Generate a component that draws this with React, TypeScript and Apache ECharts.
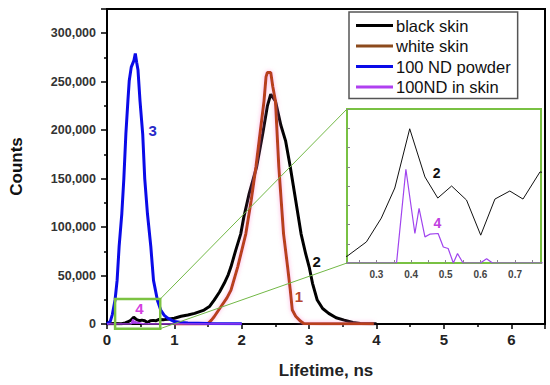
import React, { useEffect, useRef } from "react";
import * as echarts from "echarts";

const FONT = "Liberation Sans, Arial, sans-serif";

// Series names (legend order)
const seriesNames = ["black skin", "white skin", "100 ND powder", "100ND in skin"];

// Curve 2: black skin
const blackX = [0, 0.1, 0.2, 0.215, 0.271, 0.314, 0.353, 0.396, 0.44, 0.477, 0.517, 0.56, 0.601, 0.642, 0.685, 0.723, 0.772, 0.85, 0.9, 1.0, 1.1, 1.2, 1.3, 1.44, 1.52, 1.59, 1.67, 1.74, 1.8, 1.84, 1.91, 1.985, 2.03, 2.11, 2.22, 2.31, 2.38, 2.43, 2.5, 2.58, 2.65, 2.72, 2.8, 2.88, 2.95, 3.0, 3.05, 3.12, 3.2, 3.29, 3.4, 3.52, 3.65, 3.76, 4.0];
const blackY = [0, 500, 300, 349, 1095, 2331, 3896, 6973, 4470, 3374, 4000, 3270, 1445, 3322, 3739, 3322, 4730, 4500, 5000, 6000, 8000, 9300, 11000, 14400, 18000, 24700, 33000, 42000, 51000, 59000, 76000, 93000, 110000, 134500, 162000, 196000, 225000, 237000, 230000, 205000, 189000, 162000, 127600, 93000, 72000, 59000, 42000, 24700, 16000, 11000, 6500, 4000, 1500, 500, 200];

// Curve 1: white skin
const whiteX = [1.0, 1.49, 1.55, 1.59, 1.69, 1.78, 1.84, 1.94, 2.0, 2.06, 2.14, 2.21, 2.27, 2.33, 2.36, 2.38, 2.43, 2.46, 2.5, 2.55, 2.62, 2.68, 2.72, 2.75, 2.8, 2.87, 2.92, 3.2, 3.96];
const whiteY = [0, 0, 4000, 7500, 17800, 27000, 35000, 59000, 76000, 93000, 127600, 162000, 196000, 230000, 255000, 259600, 259600, 245000, 230000, 162000, 93000, 59000, 35000, 14400, 8000, 3000, 500, 300, 200];

// Curve 3: 100 ND powder
const powderX = [0, 0.05, 0.08, 0.12, 0.15, 0.18, 0.22, 0.25, 0.28, 0.31, 0.33, 0.36, 0.4, 0.42, 0.44, 0.46, 0.49, 0.53, 0.56, 0.6, 0.65, 0.69, 0.75, 0.8, 0.85, 0.9, 1.0, 1.1, 1.2, 1.5, 2.0];
const powderY = [0, 3000, 10000, 25000, 45000, 80000, 114000, 150000, 196000, 230000, 251000, 265000, 272000, 279000, 270000, 262000, 230000, 196000, 150000, 114000, 80000, 45000, 24000, 14000, 9000, 6000, 2500, 1500, 1000, 500, 300];

// Curve 4: 100ND in skin
const inSkinX = [0, 0.2, 0.3, 0.358, 0.385, 0.411, 0.423, 0.44, 0.454, 0.478, 0.493, 0.507, 0.522, 0.534, 0.55, 0.6, 0.618, 0.635, 0.8, 1.0, 2.0];
const inSkinY = [0, 0, 0, 0, 4871, 1533, 2837, 1356, 1497, 1533, 834, 751, 0, 490, 0, 0, 226, 0, 0, 0, 0];

// Axis ranges / ticks
const mainXRange = [0, 6.5];
const mainYRange = [0, 325000];
const insetXRange = [0.215, 0.775];
const insetYRange = [0, 8000];
const insetXLabels = [0.3, 0.4, 0.5, 0.6, 0.7];
const insetXTicks = [0.25, 0.3, 0.35, 0.4, 0.45, 0.5, 0.55, 0.6, 0.65, 0.7, 0.75];

// Zoomed region on the main plot
const zoomBoxX = [0.12, 0.79];
const zoomBoxY = [-4800, 25700];

// Curve number annotations (data coordinates)
const mainLabelText = ["1", "2", "3", "4"];
const mainLabelX = [2.85, 3.11, 0.677, 0.48];
const mainLabelY = [28100, 64100, 199600, 16150];
const insetLabelText = ["2", "4"];
const insetLabelX = [0.474, 0.476];
const insetLabelY = [4678, 2070];

const colors = {
  black: "#000000",
  white: "#b8401c",
  powder: "#0b0be8",
  inSkin: "#b040f0",
};
const labelColors = ["#b5452f", "#111111", "#2b2bc8", "#d43fe0"];

const zip = (xs: number[], ys: number[]) => xs.map((x, i) => [x, ys[i]]);

const mp = (i: number, text: string[], xs: number[], ys: number[], colorArr: string[], size: number) => ({
  coord: [xs[i], ys[i]],
  value: text[i],
  label: {
    show: true,
    formatter: text[i],
    color: colorArr[i],
    fontSize: size,
    fontWeight: "bold",
    fontFamily: FONT,
  },
});

export default function App() {
  const ref = useRef<HTMLDivElement>(null);
  useEffect(() => {
    const chart = echarts.init(ref.current!, null, { renderer: "svg" });
    const mkBase = {
      symbol: "circle",
      symbolSize: 1,
      itemStyle: { color: "transparent" },
      silent: true,
    };
    const option: any = {
      animation: false,
      backgroundColor: "#fff",
      textStyle: { fontFamily: FONT },
      legend: {
        data: seriesNames,
        orient: "vertical",
        left: 349,
        top: 12,
        padding: [5, 7, 3, 7],
        itemGap: 3.5,
        itemWidth: 37,
        itemHeight: 3,
        icon: "rect",
        borderColor: "#555",
        borderWidth: 1.5,
        borderRadius: 0,
        backgroundColor: "#fff",
        textStyle: { fontFamily: FONT, fontSize: 16.5, color: "#111", padding: [0, 0, 0, -2] },
      },
      grid: [
        { left: 106, top: 9, right: 5, bottom: 61, show: true, borderColor: "#000", borderWidth: 2, backgroundColor: "transparent" },
        { left: 347, top: 109, width: 194, height: 154, show: true, borderColor: "#79c143", borderWidth: 2, backgroundColor: "#fff" },
      ],
      xAxis: [
        {
          type: "value",
          gridIndex: 0,
          min: mainXRange[0],
          max: mainXRange[1],
          interval: 1,
          axisLine: { lineStyle: { color: "#000", width: 2 } },
          axisTick: { length: 5, lineStyle: { color: "#000", width: 1.5 } },
          minorTick: { show: true, splitNumber: 2, length: 3, lineStyle: { color: "#000", width: 1.5 } },
          splitLine: { show: false },
          axisLabel: {
            formatter: (v: number) => (Number.isInteger(v) ? String(v) : ""),
            fontSize: 15,
            fontWeight: "bold",
            color: "#222",
            margin: 8,
            fontFamily: FONT,
          },
          name: "Lifetime, ns",
          nameLocation: "middle",
          nameGap: 38,
          nameTextStyle: { fontSize: 17, fontWeight: "bold", color: "#222", fontFamily: FONT },
        },
        {
          type: "value",
          gridIndex: 1,
          min: insetXRange[0],
          max: insetXRange[1],
          axisLine: { show: false },
          axisTick: { show: true, inside: true, length: 3, customValues: insetXTicks, lineStyle: { color: "#888", width: 1 } },
          axisLabel: {
            customValues: insetXLabels,
            formatter: (v: number) => v.toFixed(1),
            fontSize: 10,
            fontWeight: "bold",
            color: "#444",
            margin: 6,
            fontFamily: FONT,
          },
          splitLine: { show: false },
        },
      ],
      yAxis: [
        {
          type: "value",
          gridIndex: 0,
          min: mainYRange[0],
          max: mainYRange[1],
          interval: 50000,
          axisLine: { show: true, lineStyle: { color: "#000", width: 2 } },
          axisTick: { show: true, length: 6, lineStyle: { color: "#000", width: 1.5 } },
          minorTick: { show: true, splitNumber: 2, length: 3, lineStyle: { color: "#000", width: 1.5 } },
          splitLine: { show: false },
          axisLabel: {
            formatter: (v: number) => (v % 50000 === 0 ? v.toLocaleString("en-US") : ""),
            fontSize: 12.5,
            fontWeight: "bold",
            color: "#333",
            margin: 11,
            fontFamily: FONT,
          },
          name: "Counts",
          nameLocation: "middle",
          nameGap: 82,
          nameTextStyle: { fontSize: 17, fontWeight: "bold", color: "#111", fontFamily: FONT },
        },
        {
          type: "value",
          gridIndex: 1,
          min: insetYRange[0],
          max: insetYRange[1],
          interval: 1000,
          axisLine: { show: false },
          axisTick: { show: true, inside: true, length: 3, lineStyle: { color: "#888", width: 1 } },
          axisLabel: { show: false },
          splitLine: { show: false },
        },
      ],
      series: [
        {
          name: seriesNames[0],
          type: "line",
          xAxisIndex: 0,
          yAxisIndex: 0,
          data: zip(blackX, blackY),
          symbol: "none",
          lineStyle: { color: colors.black, width: 3 },
          itemStyle: { color: colors.black },
          markPoint: { ...mkBase, data: [mp(1, mainLabelText, mainLabelX, mainLabelY, labelColors, 15)] },
        },
        {
          name: seriesNames[1],
          type: "line",
          xAxisIndex: 0,
          yAxisIndex: 0,
          data: zip(whiteX, whiteY),
          symbol: "none",
          lineStyle: { color: colors.white, width: 3, shadowColor: "rgba(255,120,200,0.55)", shadowBlur: 4 },
          itemStyle: { color: "#8c4a1c" },
          markPoint: { ...mkBase, data: [mp(0, mainLabelText, mainLabelX, mainLabelY, labelColors, 15)] },
        },
        {
          name: seriesNames[2],
          type: "line",
          xAxisIndex: 0,
          yAxisIndex: 0,
          data: zip(powderX, powderY),
          symbol: "none",
          lineStyle: { color: colors.powder, width: 3 },
          itemStyle: { color: colors.powder },
          markPoint: { ...mkBase, data: [mp(2, mainLabelText, mainLabelX, mainLabelY, labelColors, 15)] },
        },
        {
          name: seriesNames[3],
          type: "line",
          xAxisIndex: 0,
          yAxisIndex: 0,
          data: zip(inSkinX, inSkinY),
          symbol: "none",
          lineStyle: { color: colors.inSkin, width: 1.5 },
          areaStyle: { color: "#a030e0", opacity: 0.9 },
          itemStyle: { color: colors.inSkin },
          markPoint: { ...mkBase, data: [mp(3, mainLabelText, mainLabelX, mainLabelY, labelColors, 15)] },
        },
        {
          name: "inset black",
          type: "line",
          xAxisIndex: 1,
          yAxisIndex: 1,
          data: zip(blackX, blackY),
          symbol: "none",
          lineStyle: { color: "#111", width: 1 },
          markPoint: { ...mkBase, data: [mp(0, insetLabelText, insetLabelX, insetLabelY, ["#111", "#c040e0"], 14)] },
        },
        {
          name: "inset in skin",
          type: "line",
          xAxisIndex: 1,
          yAxisIndex: 1,
          data: zip(inSkinX, inSkinY),
          symbol: "none",
          lineStyle: { color: "#a044ee", width: 1.2 },
          markPoint: { ...mkBase, data: [mp(1, insetLabelText, insetLabelX, insetLabelY, ["#111", "#c040e0"], 14)] },
        },
      ],
    };
    chart.setOption(option);

    const p = (g: number, v: number[]) => chart.convertToPixel({ gridIndex: g } as any, v) as number[];
    const tl = p(0, [zoomBoxX[0], zoomBoxY[1]]);
    const br = p(0, [zoomBoxX[1], zoomBoxY[0]]);
    const itl = p(1, [insetXRange[0], insetYRange[1]]);
    const ibl = p(1, [insetXRange[0], insetYRange[0]]);
    chart.setOption({
      graphic: [
        {
          type: "rect",
          z: 100,
          shape: { x: tl[0], y: tl[1], width: br[0] - tl[0], height: br[1] - tl[1] },
          style: { fill: "none", stroke: "#7cc242", lineWidth: 2.5 },
        },
        {
          type: "line",
          z: 100,
          shape: { x1: br[0], y1: tl[1], x2: itl[0], y2: itl[1] },
          style: { stroke: "#72b846", lineWidth: 1 },
        },
        {
          type: "line",
          z: 100,
          shape: { x1: br[0], y1: br[1], x2: ibl[0], y2: ibl[1] },
          style: { stroke: "#72b846", lineWidth: 1 },
        },
      ],
    });
    return () => chart.dispose();
  }, []);
  return <div ref={ref} style={{ position: "fixed", left: 0, top: 0, width: 550, height: 385 }} />;
}
